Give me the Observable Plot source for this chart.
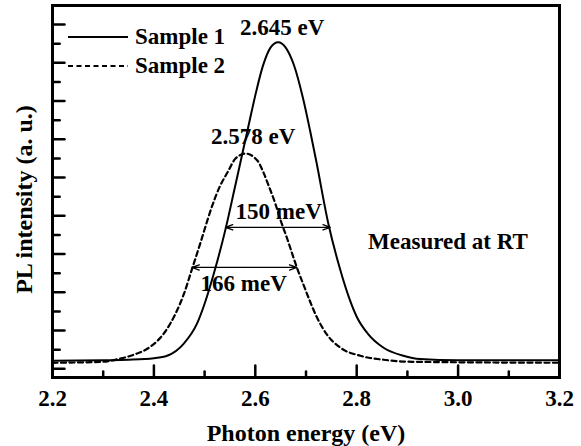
<!DOCTYPE html>
<html><head><meta charset="utf-8">
<script src="https://cdn.jsdelivr.net/npm/d3@7"></script>
<script src="https://cdn.jsdelivr.net/npm/@observablehq/plot@0.6"></script>
<style>
body{margin:0;background:#fff;}
#wrap{position:relative;width:581px;height:446px;font-family:"Liberation Serif","Times New Roman",serif;font-weight:bold;}
.leg{position:absolute;left:68px;height:26px;display:flex;align-items:center;font-size:23px;color:#000;white-space:nowrap;}
.leg svg{margin-right:7px;display:block;}
</style></head>
<body><div id="wrap"></div>
<script>
// ---- data ----
const seriesNames = ["Sample 1", "Sample 2"];
const energy1 = [2.20, 2.30, 2.35, 2.40, 2.426, 2.459, 2.485, 2.502, 2.521, 2.542, 2.559, 2.576, 2.589, 2.600, 2.615, 2.630, 2.645, 2.660, 2.676, 2.694, 2.708, 2.720, 2.744, 2.766, 2.787, 2.800, 2.823, 2.853, 2.892, 2.925, 3.00, 3.20];
const intensity1 = [0.209, 0.223, 0.236, 0.275, 0.340, 0.66, 1.18, 1.780, 2.62, 3.691, 4.70, 5.72, 6.50, 7.15, 7.92, 8.40, 8.542, 8.40, 7.95, 7.08, 6.23, 5.445, 3.80, 2.66, 1.780, 1.36, 0.90, 0.55, 0.34, 0.254, 0.223, 0.223];
const energy2 = [2.20, 2.30, 2.328, 2.36, 2.393, 2.42, 2.443, 2.459, 2.476, 2.485, 2.495, 2.505, 2.516, 2.529, 2.545, 2.561, 2.581, 2.604, 2.617, 2.626, 2.640, 2.649, 2.663, 2.676, 2.682, 2.695, 2.708, 2.721, 2.741, 2.768, 2.807, 2.853, 2.91, 3.20];
const intensity2 = [0.157, 0.183, 0.249, 0.366, 0.576, 0.93, 1.45, 1.95, 2.644, 3.010, 3.429, 3.86, 4.30, 4.738, 5.131, 5.497, 5.628, 5.445, 5.105, 4.80, 4.30, 3.92, 3.40, 2.88, 2.65, 2.20, 1.76, 1.36, 0.90, 0.55, 0.340, 0.236, 0.183, 0.157];

const xTickLabels = [2.2, 2.4, 2.6, 2.8, 3.0, 3.2];
const xTicksAll = [2.2, 2.3, 2.4, 2.5, 2.6, 2.7, 2.8, 2.9, 3.0, 3.1, 3.2];
const yTicksAll = [0, 0.5, 1, 1.5, 2, 2.5, 3, 3.5, 4, 4.5, 5, 5.5, 6, 6.5, 7, 7.5, 8, 8.5, 9];

const noteTexts = ["2.645 eV", "2.578 eV", "150 meV", "166 meV", "Measured at RT"];
const noteX = [2.653, 2.596, 2.646, 2.577, 2.98];
const noteY = [8.74, 5.87, 3.91, 2.04, 3.13];

const fwhmX1 = [2.541, 2.475];
const fwhmX2 = [2.748, 2.682];
const fwhmY = [3.70, 2.65];

const xLabel = "Photon energy (eV)";
const yLabel = "PL intensity (a. u.)";
const xDomain = [2.2, 3.2];
const yDomain = [-0.228, 9.5];

// ---- tables ----
const curves = [
  ...energy1.map((e, i) => ({series: seriesNames[0], e, v: intensity1[i]})),
  ...energy2.map((e, i) => ({series: seriesNames[1], e, v: intensity2[i]}))
];
const notes = noteTexts.map((t, i) => ({t, x: noteX[i], y: noteY[i]}));
const halfArrows = [];
fwhmX1.forEach((a, i) => {
  const m = (a + fwhmX2[i]) / 2;
  halfArrows.push({x1: m, x2: a, y: fwhmY[i]});
  halfArrows.push({x1: m, x2: fwhmX2[i], y: fwhmY[i]});
});
const isMajorX = d => Math.abs(Math.round(d * 5) - d * 5) < 1e-6;
const isMajorY = d => Number.isInteger(d);
const tickShape = {draw(ctx, l) { ctx.moveTo(0, 0); ctx.lineTo(0, -l); }};

const font = '"Liberation Serif", "Times New Roman", serif';

const chart = Plot.plot({
  width: 581,
  height: 446,
  marginLeft: 52,
  marginRight: 22,
  marginTop: 5,
  marginBottom: 69,
  style: {fontFamily: font, fontSize: "23px", fontWeight: "bold", color: "#000", background: "#fff"},
  x: {domain: xDomain},
  y: {domain: yDomain, axis: null},
  marks: [
    Plot.line(curves.filter(d => d.series === seriesNames[1]), {x: "e", y: "v", stroke: "#000", strokeWidth: 2.2, strokeDasharray: "5,3.5", curve: "monotone-x"}),
    Plot.line(curves.filter(d => d.series === seriesNames[0]), {x: "e", y: "v", stroke: "#000", strokeWidth: 2, curve: "monotone-x"}),
    Plot.arrow(halfArrows, {x1: "x1", y1: "y", x2: "x2", y2: "y", stroke: "#000", strokeWidth: 1.3, headLength: 9, headAngle: 40}),
    Plot.text(notes, {x: "x", y: "y", text: "t", lineAnchor: "bottom", fill: "#000", fontSize: 23}),
    Plot.vector(xTicksAll, {x: d => d, y: yDomain[0], length: d => isMajorX(d) ? 10 : 5, rotate: 0, anchor: "start", shape: tickShape, stroke: "#000", strokeWidth: 2.5}),
    Plot.vector(yTicksAll, {x: xDomain[0], y: d => d, length: d => isMajorY(d) ? 10 : 6, rotate: 90, anchor: "start", shape: tickShape, stroke: "#000", strokeWidth: 2.5}),
    Plot.axisX(xTickLabels, {tickSize: 0, tickPadding: 12, tickFormat: d3.format(".1f"), label: null, fontSize: 23, fill: "#000"}),
    Plot.text([xLabel], {text: d => d, frameAnchor: "bottom", textAnchor: "middle", dy: 63, lineAnchor: "bottom", fontSize: 24, fill: "#000"}),
    Plot.text([yLabel], {text: d => d, frameAnchor: "left", textAnchor: "middle", rotate: -90, dx: -28, dy: 8, fontSize: 24, fill: "#000"}),
    Plot.frame({stroke: "#000", strokeWidth: 3})
  ]
});
chart.style.position = "absolute";
chart.style.left = "0";
chart.style.top = "0";
const wrap = document.getElementById("wrap");
wrap.appendChild(chart);

// legend (inside the frame, top-left)
const dashes = [null, "5,3.5"];
seriesNames.forEach((name, i) => {
  const row = document.createElement("div");
  row.className = "leg";
  row.style.top = (24 + i * 29) + "px";
  row.innerHTML = `<svg width="60" height="6"><line x1="0" x2="60" y1="3" y2="3" stroke="#000" stroke-width="2"${dashes[i] ? ` stroke-dasharray="${dashes[i]}"` : ""}/></svg><span>${name}</span>`;
  wrap.appendChild(row);
});
</script>
</body></html>
